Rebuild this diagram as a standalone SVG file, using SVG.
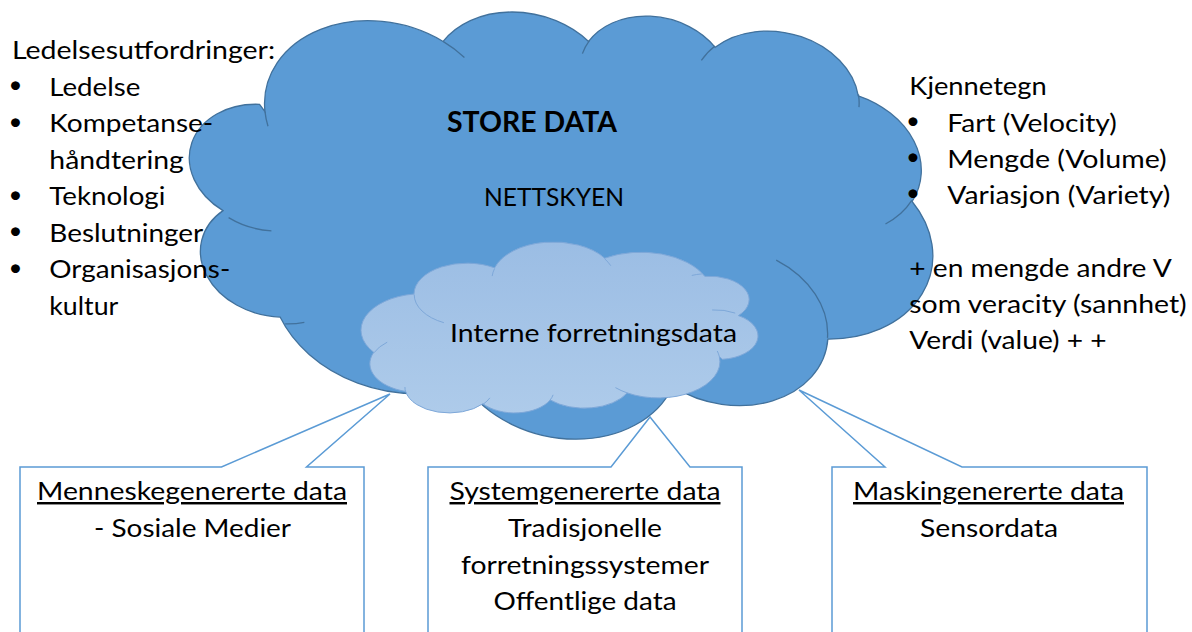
<svg xmlns="http://www.w3.org/2000/svg" width="1192" height="632" viewBox="0 0 1192 632">
  <style>
    .t { font-family: Lato, "Open Sans", "Liberation Sans", sans-serif; font-size: 24.5px; fill: #000; }
    .bold { font-weight: bold; font-size: 28px; }
    .ul { text-decoration: underline; }
    .bullet { font-family: Lato, "Liberation Sans", sans-serif; font-size: 24px; fill: #000; text-anchor: middle; }
    .mid { text-anchor: middle; }
    .callout { fill: #FFFFFF; stroke: #5B9BD5; stroke-width: 1.5; stroke-linejoin: miter; }
    .bigFill { fill: #5B9BD5; stroke: #41719C; stroke-width: 1.3; }
    .bigArc { fill: none; stroke: #41719C; stroke-width: 1.3; }
    .smallFill { fill: url(#lightFill); stroke: #7EA8D9; stroke-width: 1; }
    .smallArc { fill: none; stroke: #7EA8D9; stroke-width: 1; }
  </style>
  <defs>
    <!-- local cloud coordinates run 0..43200; the small cloud is turned upside down -->
    <linearGradient id="lightFill" gradientUnits="userSpaceOnUse" x1="0" y1="43200" x2="0" y2="0">
      <stop offset="0" stop-color="#9BBDE4"/>
      <stop offset="1" stop-color="#AECBEA"/>
    </linearGradient>
  </defs>

  <!-- callout boxes with their pointers -->
  <g id="connectors">
    <g id="callout-human">
      <path class="callout" d="M20,467 H221.5 L390,394 L306.5,467 H364 V640 H20 Z"/>
      <text class="t ul mid" x="192" y="500" textLength="310" lengthAdjust="spacingAndGlyphs">Menneskegenererte data</text>
      <text class="t mid" x="192.5" y="537" textLength="197" lengthAdjust="spacingAndGlyphs">- Sosiale Medier</text>
    </g>
    <g id="callout-system">
      <path class="callout" d="M428,467 H611 L650,417 L690,467 H742 V640 H428 Z"/>
      <text class="t ul mid" x="585" y="500" textLength="271" lengthAdjust="spacingAndGlyphs">Systemgenererte data</text>
      <text class="t mid" x="585" y="537" textLength="154" lengthAdjust="spacingAndGlyphs">Tradisjonelle</text>
      <text class="t mid" x="585" y="573.5" textLength="248" lengthAdjust="spacingAndGlyphs">forretningssystemer</text>
      <text class="t mid" x="585" y="610" textLength="183" lengthAdjust="spacingAndGlyphs">Offentlige data</text>
    </g>
    <g id="callout-machine">
      <path class="callout" d="M832,467 H885 L799,390 L962,467 H1147 V640 H832 Z"/>
      <text class="t ul mid" x="988.5" y="500" textLength="271" lengthAdjust="spacingAndGlyphs">Maskingenererte data</text>
      <text class="t mid" x="989" y="537" textLength="138" lengthAdjust="spacingAndGlyphs">Sensordata</text>
    </g>
  </g>

  <!-- big cloud: "Store data / Nettskyen" -->
  <g id="cloud-store-data">
    <path class="bigFill" vector-effect="non-scaling-stroke"
      transform="matrix(0.0170833 0.0020833 -0.00060185 0.0099537 207 -39.5)"
      d="M3900,14370 A6753,9190 0 0 1 14005,5202 A5333,7267 0 0 1 22457,3431 A4365,5945 0 0 1 29834,2480 A4857,6595 0 0 1 38319,5575 A5333,7273 0 0 1 41820,15458 A6775,9220 0 0 1 37407,30203 A5785,7867 0 0 1 28558,36813 A6752,9215 0 0 1 16481,39262 A7720,10543 0 0 1 5501,34667 A4360,5918 0 0 1 1809,24747 A4345,5945 0 0 1 3559,13704 Z"/>
    <path class="bigArc" vector-effect="non-scaling-stroke"
      transform="matrix(0.0170833 0.0020833 -0.00060185 0.0099537 207 -39.5)"
      d="M4693,26177 A4345,5945 0 0 1 2159,25379 M6928,34899 A4360,5918 0 0 1 5819,35281 M16478,39090 A6752,9215 0 0 1 15812,37353 M28827,34751 A6752,9215 0 0 1 28561,36660 M34129,22954 A5785,7867 0 0 1 37381,30090 M41798,15354 A5333,7273 0 0 1 40350,18030 M38324,5426 A4857,6595 0 0 1 38400,6690 M29078,3952 A4857,6595 0 0 1 29820,2341 M22141,4720 A4365,5945 0 0 1 22500,3330 M14000,5192 A6753,9190 0 0 1 15300,6541 M4127,15789 A6753,9190 0 0 1 3900,14370"/>
    <text class="t bold" x="447" y="131.5" textLength="170" lengthAdjust="spacingAndGlyphs">STORE DATA</text>
    <text class="t" x="484" y="206" textLength="140" lengthAdjust="spacingAndGlyphs">NETTSKYEN</text>
  </g>

  <!-- small inner cloud: internal business data -->
  <g id="cloud-internal">
    <path class="smallFill" vector-effect="non-scaling-stroke"
      transform="matrix(-0.0091134 0 0 -0.003956 754.9 413.5)"
      d="M3900,14370 A6753,9190 0 0 1 14005,5202 A5333,7267 0 0 1 22457,3431 A4365,5945 0 0 1 29834,2480 A4857,6595 0 0 1 38319,5575 A5333,7273 0 0 1 41820,15458 A6775,9220 0 0 1 37407,30203 A5785,7867 0 0 1 28558,36813 A6752,9215 0 0 1 16481,39262 A7720,10543 0 0 1 5501,34667 A4360,5918 0 0 1 1809,24747 A4345,5945 0 0 1 3559,13704 Z"/>
    <path class="smallArc" vector-effect="non-scaling-stroke"
      transform="matrix(-0.0091134 0 0 -0.003956 754.9 413.5)"
      d="M4693,26177 A4345,5945 0 0 1 2159,25379 M6928,34899 A4360,5918 0 0 1 5819,35281 M16478,39090 A6752,9215 0 0 1 15812,37353 M28827,34751 A6752,9215 0 0 1 28561,36660 M34129,22954 A5785,7867 0 0 1 37381,30090 M41798,15354 A5333,7273 0 0 1 40350,18030 M38324,5426 A4857,6595 0 0 1 38400,6690 M29078,3952 A4857,6595 0 0 1 29820,2341 M22141,4720 A4365,5945 0 0 1 22500,3330 M14000,5192 A6753,9190 0 0 1 15300,6541 M4127,15789 A6753,9190 0 0 1 3900,14370"/>
    <text class="t" x="450" y="341.7" textLength="287" lengthAdjust="spacingAndGlyphs">Interne forretningsdata</text>
  </g>

  <!-- management challenges list -->
  <g id="challenges">
    <text class="t" x="12" y="59.3" textLength="263" lengthAdjust="spacingAndGlyphs">Ledelsesutfordringer:</text>
    <text class="bullet" x="15.5" y="93">•</text>
    <text class="t" x="49.3" y="95.8" textLength="91" lengthAdjust="spacingAndGlyphs">Ledelse</text>
    <text class="bullet" x="15.5" y="129.5">•</text>
    <text class="t" x="49.3" y="132.3" textLength="164" lengthAdjust="spacingAndGlyphs">Kompetanse-</text>
    <text class="t" x="49.3" y="168.8" textLength="134.5" lengthAdjust="spacingAndGlyphs">håndtering</text>
    <text class="bullet" x="15.5" y="202.5">•</text>
    <text class="t" x="49.3" y="205.3" textLength="116" lengthAdjust="spacingAndGlyphs">Teknologi</text>
    <text class="bullet" x="15.5" y="239">•</text>
    <text class="t" x="49.3" y="241.8" textLength="154" lengthAdjust="spacingAndGlyphs">Beslutninger</text>
    <text class="bullet" x="15.5" y="275.5">•</text>
    <text class="t" x="49.3" y="278.3" textLength="181" lengthAdjust="spacingAndGlyphs">Organisasjons-</text>
    <text class="t" x="49.3" y="314.8" textLength="69" lengthAdjust="spacingAndGlyphs">kultur</text>
  </g>

  <!-- characteristics list -->
  <g id="characteristics">
    <text class="t" x="909.3" y="95.3" textLength="137.4" lengthAdjust="spacingAndGlyphs">Kjennetegn</text>
    <text class="bullet" x="913" y="128.8">•</text>
    <text class="t" x="947.3" y="131.6" textLength="169.4" lengthAdjust="spacingAndGlyphs">Fart (Velocity)</text>
    <text class="bullet" x="913" y="165.1">•</text>
    <text class="t" x="947.3" y="167.9" textLength="219.4" lengthAdjust="spacingAndGlyphs">Mengde (Volume)</text>
    <text class="bullet" x="913" y="201.4">•</text>
    <text class="t" x="947.3" y="204.2" textLength="223" lengthAdjust="spacingAndGlyphs">Variasjon (Variety)</text>
    <text class="t" x="909.3" y="276.8" textLength="262.4" lengthAdjust="spacingAndGlyphs">+ en mengde andre V</text>
    <text class="t" x="909.3" y="313.1" textLength="277.4" lengthAdjust="spacingAndGlyphs">som veracity (sannhet)</text>
    <text class="t" x="909.3" y="349.4" textLength="197.4" lengthAdjust="spacingAndGlyphs">Verdi (value) + +</text>
  </g>
</svg>
